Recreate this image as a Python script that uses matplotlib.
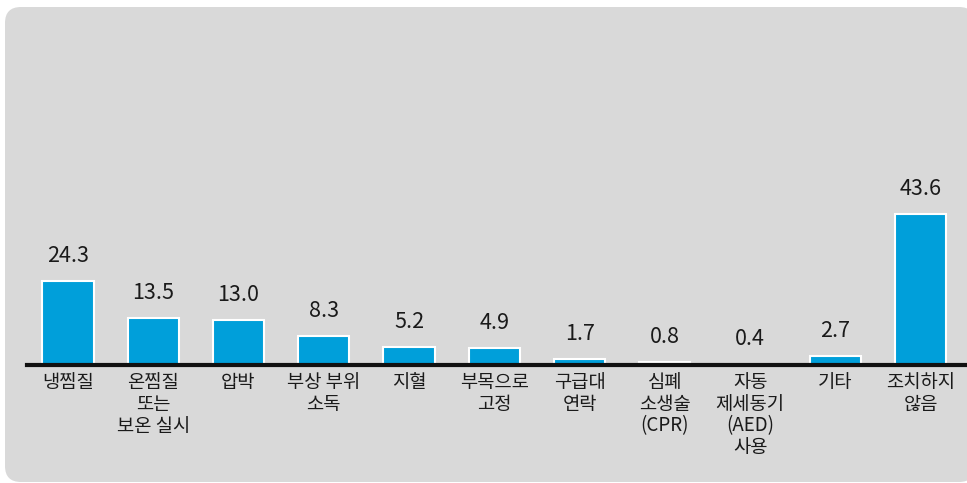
import matplotlib
matplotlib.use("Agg")
import matplotlib.pyplot as plt
from matplotlib.patches import FancyBboxPatch
from matplotlib.transforms import IdentityTransform

plt.rcParams['font.family'] = ['Noto Sans CJK KR', 'DejaVu Sans']

categories = ["냉찜질", "온찜질\n또는\n보온 실시", "압박", "부상 부위\n소독", "지혈",
              "부목으로\n고정", "구급대\n연락", "심폐\n소생술\n(CPR)",
              "자동\n제세동기\n(AED)\n사용", "기타", "조치하지\n않음"]
values = [24.3, 13.5, 13.0, 8.3, 5.2, 4.9, 1.7, 0.8, 0.4, 2.7, 43.6]
value_labels = ["24.3", "13.5", "13.0", "8.3", "5.2", "4.9", "1.7", "0.8", "0.4", "2.7", "43.6"]

W, H, DPI = 967, 483, 100
fig = plt.figure(figsize=(W / DPI, H / DPI), dpi=DPI, facecolor="white")

# rounded grey panel behind the chart
panel = FancyBboxPatch((5, 1), 970, 475, boxstyle="round,pad=0,rounding_size=16",
                       transform=IdentityTransform(), facecolor="#d9d9d9",
                       edgecolor="none", zorder=-5)
fig.patches.append(panel)

ax_bottom = (H - 365) / H
ax = fig.add_axes([27 / W, ax_bottom, (965 - 27) / W, 173 / H])
ax.set_zorder(5)
ax.set_facecolor("none")

x = list(range(len(values)))
ax.bar(x, values, width=0.6, color="#009fda", edgecolor="white", linewidth=1.5, zorder=2)

for xi, v, lab in zip(x, values, value_labels):
    ax.annotate(lab, (xi, v), xytext=(0, 10), textcoords="offset points",
                ha="center", va="bottom", fontsize=15.5, color="#1a1a1a",
                fontweight="medium")

ax.set_xlim(-0.48, 10.52)
ax.set_ylim(0, 50)

for s in ["top", "right", "left"]:
    ax.spines[s].set_visible(False)
ax.spines["bottom"].set_linewidth(3)
ax.spines["bottom"].set_color("#111111")
ax.spines["bottom"].set_zorder(3)

ax.set_yticks([])
ax.set_xticks(x)
ax.set_xticklabels(categories, fontsize=13.5, color="#1a1a1a", linespacing=1.05,
                   fontweight="medium")
ax.tick_params(axis="x", length=0, pad=5)

fig.savefig("out.png", dpi=DPI, facecolor="white")
